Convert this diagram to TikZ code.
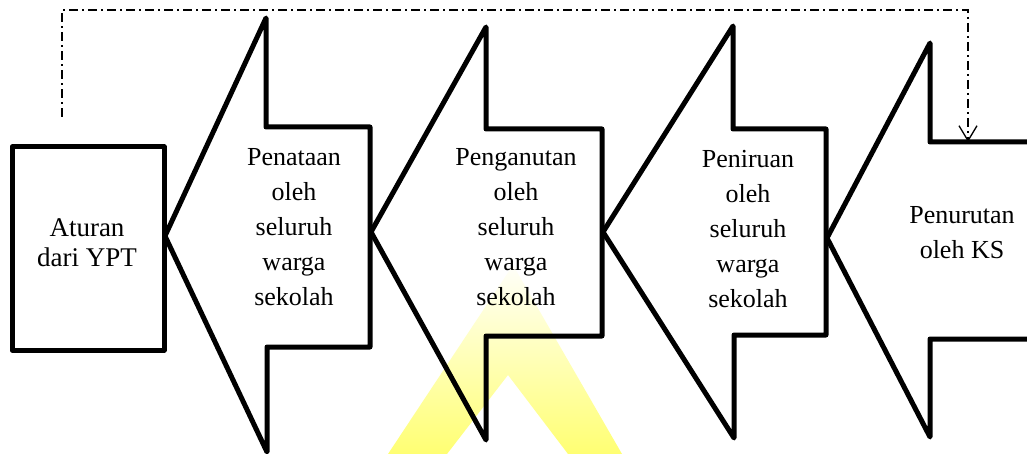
\documentclass[tikz,border=0pt]{standalone}
\usepackage{fontspec}
\setmainfont{Liberation Serif}
\usetikzlibrary{arrows.meta}
\begin{document}
\begin{tikzpicture}[x=1pt,y=-1pt,
  shapeline/.style={line width=5pt, line join=round},
  lbl/.style={align=center, inner sep=0pt, font=\fontsize{26}{35}\selectfont},
  flow/.style={line width=1.6pt, dash pattern=on 9pt off 4pt on 2pt off 4pt,
    -{Straight Barb[length=15pt,width=18pt,line width=1.3pt]}}]
\useasboundingbox (0,0) rectangle (1027,454);
% watermark
\shade[even odd rule, top color=yellow!2, bottom color=yellow!55]
  (388,454) -- (513,265) -- (622,454) -- cycle
  (447,454) -- (508,375) -- (568,454) -- cycle;
% box
\draw[shapeline] (12,147) rectangle (164,350);
\node[lbl, font=\fontsize{27}{30}\selectfont] (aturan) at (87,243) {Aturan\\dari YPT};
% arrows
\draw[shapeline] (165,236) -- (266,18) -- (266,127) -- (370,127) -- (370,347)
  -- (267,347) -- (267,452) -- cycle;
\draw[shapeline] (371,232) -- (486,27) -- (486,129) -- (602,129) -- (602,336)
  -- (486,336) -- (486,440) -- cycle;
\draw[shapeline] (603,232) -- (733,26) -- (733,129) -- (826,129) -- (826,335)
  -- (734,335) -- (734,438) -- cycle;
\draw[shapeline] (1040,142) -- (930,142) -- (930,43) -- (827,238) -- (930,437)
  -- (930,339) -- (1040,339);
% labels
\node[lbl] (penataan) at (294,227) {Penataan\\oleh\\seluruh\\warga\\sekolah};
\node[lbl] (penganutan) at (516,227) {Penganutan\\oleh\\seluruh\\warga\\sekolah};
\node[lbl] (peniruan) at (748,229) {Peniruan\\oleh\\seluruh\\warga\\sekolah};
\node[lbl] (penurutan) at (962,233) {Penurutan\\oleh KS};
% feedback connector
\coordinate (s) at (62,117);
\coordinate (c1) at (62,10);
\coordinate (c2) at (968,10);
\coordinate (t) at (968,142);
\draw[flow] (s) -- (c1) -- (c2) -- (t);
\end{tikzpicture}
\end{document}
